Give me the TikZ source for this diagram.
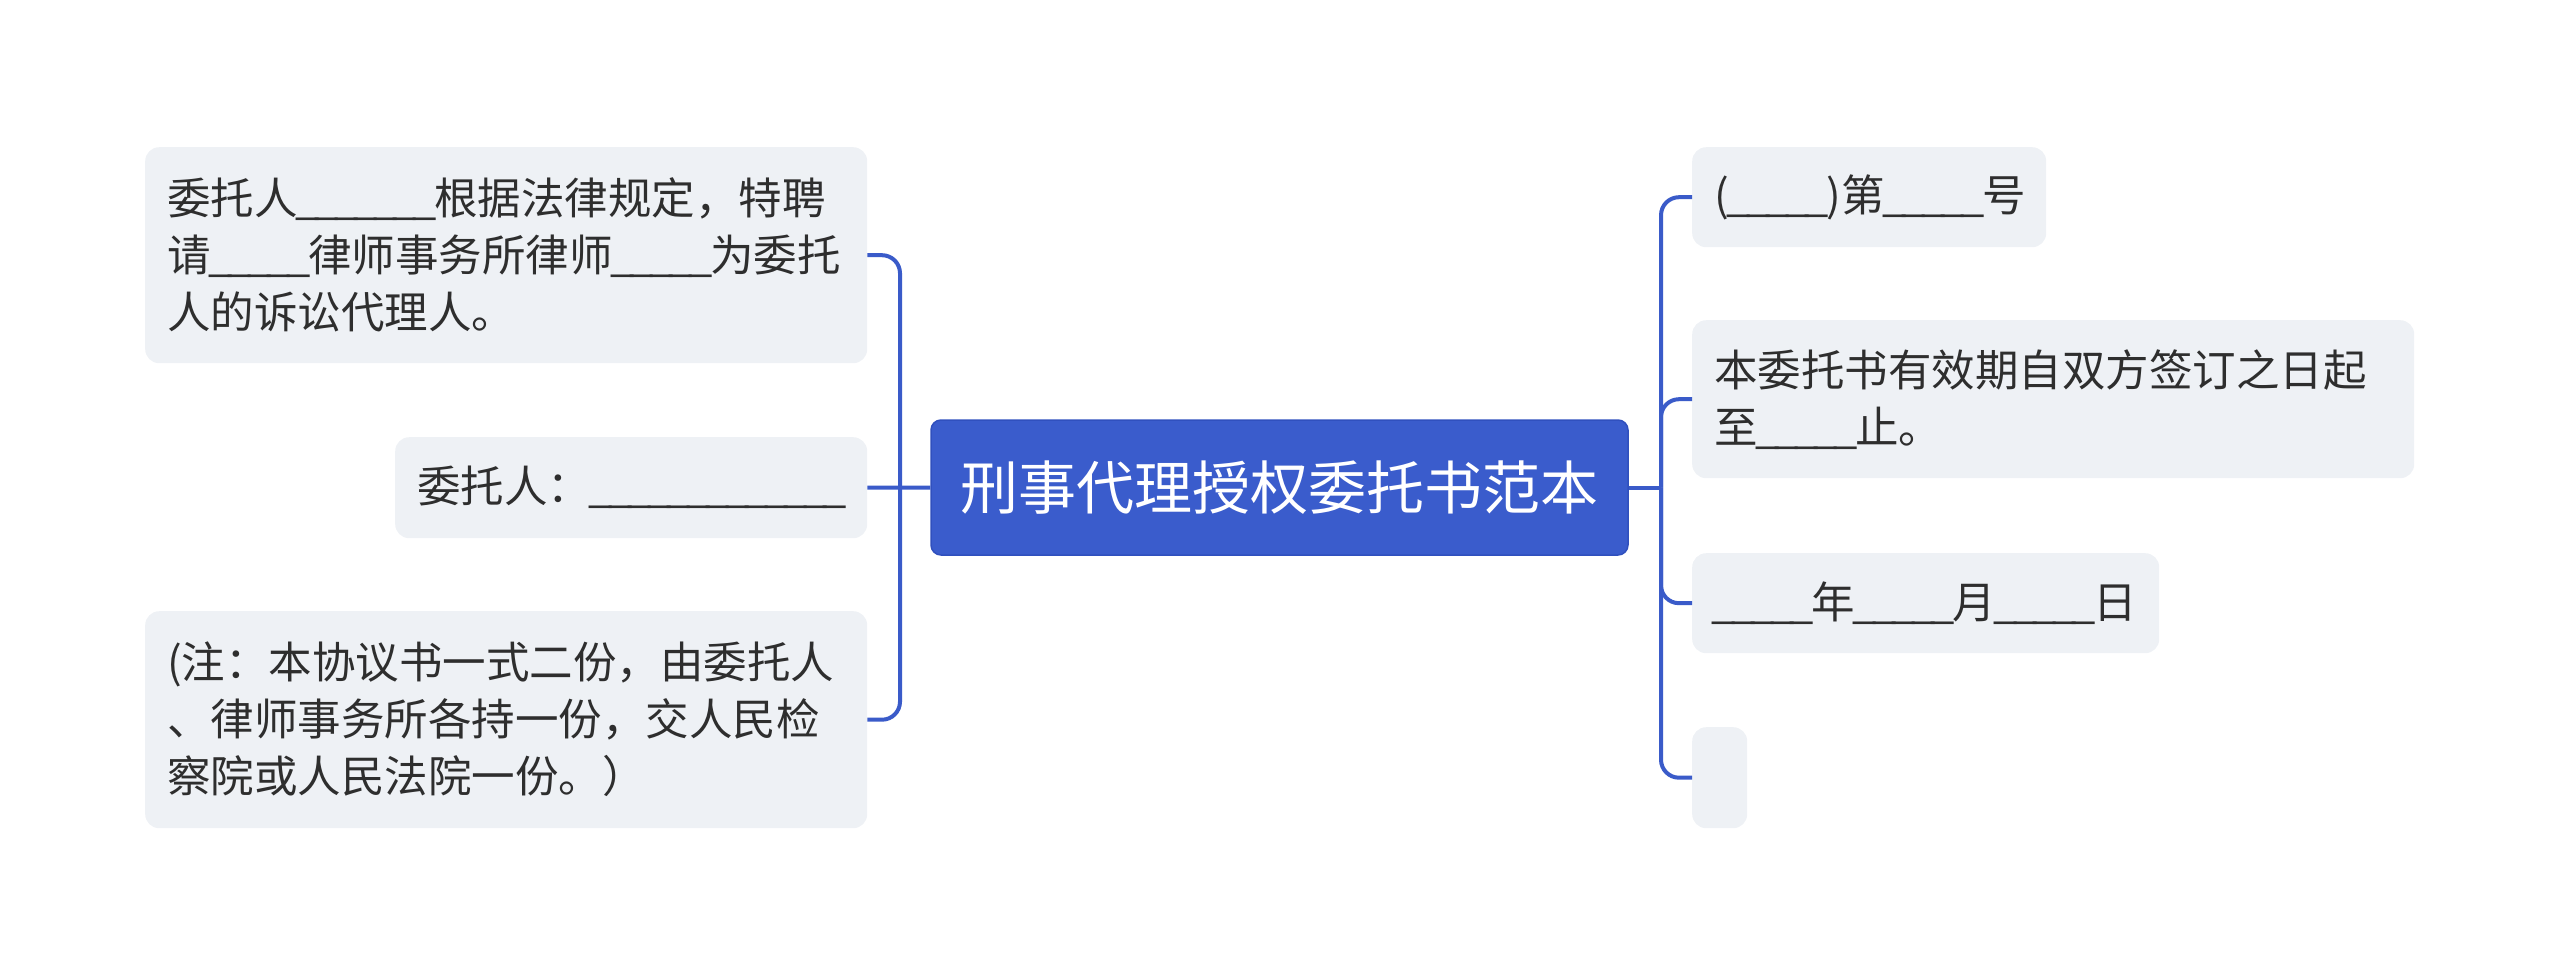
\documentclass[tikz,border=0pt]{standalone}
\usepackage{fontspec}
\setmainfont{Noto Sans CJK SC}
\definecolor{rootblue}{HTML}{3A5CCC}
\definecolor{rootedge}{HTML}{3050BE}
\definecolor{linkblue}{HTML}{3A5BC9}
\definecolor{cfill}{HTML}{EEF1F5}
\definecolor{ctext}{HTML}{2E2E2E}
\newcommand\uu{\makebox[19.5pt][c]{\textunderscore}}
\tikzset{
  leaf/.style={fill=cfill, rounded corners=14pt, inner xsep=22pt, inner ysep=0pt,
    anchor=north west, align=left, text=ctext, font=\fontsize{43.5}{57}\selectfont},
  rootbox/.style={fill=rootblue, draw=rootedge, line width=1.5pt, rounded corners=10pt,
    text=white, font=\fontsize{58}{70}\selectfont, inner sep=0pt},
  conn/.style={draw=linkblue, line width=4pt, rounded corners=18pt}
}
\begin{document}
\begin{tikzpicture}[x=1pt,y=-1pt]
\useasboundingbox (0,0) rectangle (2560,975);
% root
\node[rootbox, minimum width=697pt, minimum height=135pt] (c) at (1279.5,487.5) {刑事代理授权委托书范本};
% left children
\node[leaf, text width=678pt, minimum height=216pt] (l1) at (145,147)
  {委托人\uu\uu\uu\uu\uu\uu\uu{}根据法律规定，特聘\\请\uu\uu\uu\uu\uu{}律师事务所律师\uu\uu\uu\uu\uu{}为委托\\人的诉讼代理人。};
\node[leaf, text width=428pt, minimum height=101pt] (l2) at (395,437)
  {委托人：\uu\uu\uu\uu\uu\uu\uu\uu\uu\uu\uu\uu\uu{}};
\node[leaf, text width=678pt, minimum height=217pt] (l3) at (145,611)
  {(注：本协议书一式二份，由委托人\\、律师事务所各持一份，交人民检\\察院或人民法院一份。）};
% right children
\node[leaf, text width=310pt, minimum height=100pt] (r1) at (1692,147)
  {(\uu\uu\uu\uu\uu)第\uu\uu\uu\uu\uu{}号};
\node[leaf, text width=678pt, minimum height=158pt] (r2) at (1692,320)
  {本委托书有效期自双方签订之日起\\至\uu\uu\uu\uu\uu{}止。};
\node[leaf, text width=423pt, minimum height=100pt] (r3) at (1692,553)
  {\uu\uu\uu\uu\uu{}年\uu\uu\uu\uu\uu{}月\uu\uu\uu\uu\uu{}日};
\node[leaf, text width=11pt, minimum height=101pt] (r4) at (1692,727) {};
% connectors
\coordinate (jl) at (900,487.5);
\coordinate (jr) at (1661,487.5);
\draw[conn] (c.west) -- (l2.east);
\draw[conn] (jl) |- (l1.east);
\draw[conn] (jl) |- (l3.east);
\draw[conn] (c.east) -- (jr);
\draw[conn] (jr) |- (r1.west);
\draw[conn] (jr) |- (r2.west);
\draw[conn] (jr) |- (r3.west);
\draw[conn] (jr) |- (r4.west);
\end{tikzpicture}
\end{document}
